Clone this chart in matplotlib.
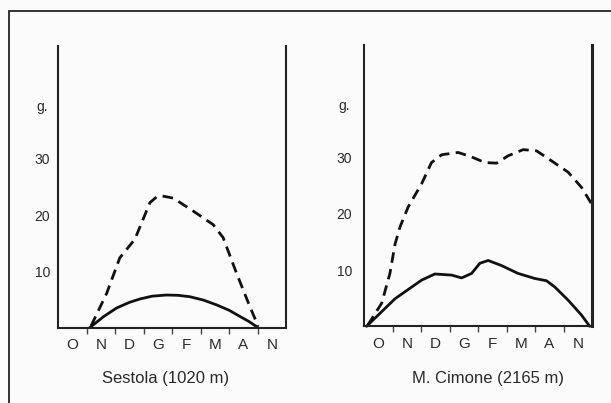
import matplotlib
matplotlib.use("Agg")
import matplotlib.pyplot as plt
from matplotlib.patches import Rectangle

plt.rcParams['font.family'] = ['Liberation Sans', 'DejaVu Sans']

months = ['O', 'N', 'D', 'G', 'F', 'M', 'A', 'N']
y_ticks = [10, 20, 30]
y_unit_label = 'g.'

# Sestola (1020 m)
ses_solid_x = [1.1, 1.6, 2.05, 2.5, 2.87, 3.3, 3.8, 4.2, 4.62, 5.1, 5.56, 6.0, 6.38, 6.7, 7.02]
ses_solid_y = [0.0, 2.0, 3.5, 4.5, 5.1, 5.6, 5.8, 5.75, 5.5, 4.9, 4.05, 3.1, 2.0, 1.1, 0.0]
ses_dash_x = [1.15, 1.7, 2.16, 2.69, 3.22, 3.45, 3.63, 4.04, 4.74, 5.44, 5.79, 6.26, 6.73, 7.02]
ses_dash_y = [0.3, 6.1, 12.4, 15.7, 22.2, 23.2, 23.4, 23.0, 20.7, 18.3, 16.0, 9.7, 3.75, 0.3]

# M. Cimone (2165 m)
cim_solid_x = [0.08, 1.08, 2.01, 2.48, 3.07, 3.42, 3.77, 4.06, 4.35, 4.82, 5.4, 5.99, 6.4, 6.69, 7.16, 7.63, 7.92]
cim_solid_y = [0.0, 4.9, 8.2, 9.3, 9.1, 8.6, 9.4, 11.2, 11.7, 10.8, 9.4, 8.5, 8.1, 7.0, 4.65, 2.0, 0.0]
cim_dash_x = [0.12, 0.61, 0.9, 1.08, 1.25, 1.54, 2.01, 2.36, 2.72, 3.3, 3.77, 4.24, 4.65, 5.05, 5.58, 6.05, 6.58, 7.16, 7.63, 7.98]
cim_dash_y = [0.2, 4.1, 9.4, 14.6, 17.6, 21.2, 25.3, 29.1, 30.5, 30.9, 30.1, 29.1, 29.0, 30.3, 31.4, 31.2, 29.4, 27.4, 24.7, 21.8]

captions = ['Sestola (1020 m)', 'M. Cimone (2165 m)']

bg = '#fbfbfb'
txt = '#2a2a2a'
fig = plt.figure(figsize=(6.11, 4.03), dpi=100, facecolor=bg)

# outer frame (open at right/bottom edges of the picture)
fig.patches.append(Rectangle((8.5 / 611, -0.1), 1.2, (403 - 11) / 403 + 0.1,
                             transform=fig.transFigure, fill=False,
                             edgecolor='#222222', linewidth=1.3))

positions = [[58.3 / 611, 75.3 / 403, 227.7 / 611, 281.7 / 403],
             [364.3 / 611, 76.7 / 403, 227.7 / 611, 281.3 / 403]]
data = [(ses_solid_x, ses_solid_y, ses_dash_x, ses_dash_y),
        (cim_solid_x, cim_solid_y, cim_dash_x, cim_dash_y)]

for i, (pos, (sx, sy, dx, dy)) in enumerate(zip(positions, data)):
    ax = fig.add_axes(pos)
    ax.set_facecolor('none')
    ax.set_xlim(0, 8)
    ax.set_ylim(0, 50)
    ax.plot(sx, sy, color='#111111', linewidth=2.0, solid_capstyle='round',
            clip_on=False)
    ax.plot(dx, dy, color='#111111', linewidth=2.0, linestyle=(0, (3.8, 2.3)),
            clip_on=False)
    for s in ['left', 'right', 'bottom']:
        ax.spines[s].set_color('#222222')
        ax.spines[s].set_linewidth(1.5)
    ax.spines['top'].set_visible(False)
    if i == 1:
        ax.spines['right'].set_linewidth(2.2)
    ax.set_xticks(range(1, 8))
    ax.set_xticklabels([])
    ax.tick_params(axis='x', which='major', direction='out', length=4,
                   width=1.0, color='#444444')
    ax.set_xticks([k + 0.5 for k in range(8)], minor=True)
    ax.set_xticklabels(months, minor=True, fontsize=11, color=txt)
    ax.tick_params(axis='x', which='minor', length=0, pad=7.5)
    ax.set_yticks(y_ticks + [39.5])
    ax.set_yticklabels([str(v) for v in y_ticks] + [y_unit_label],
                       fontsize=10, color=txt)
    ax.tick_params(axis='y', length=0, pad=11.5 if i == 0 else 14.3)
    for lbl in ax.get_yticklabels():
        lbl.set_horizontalalignment('center')

fig.text(165.8 / 611, (403 - 378) / 403, captions[0], ha='center', va='center',
         fontsize=12, color=txt)
fig.text(487.5 / 611, (403 - 378) / 403, captions[1], ha='center', va='center',
         fontsize=12, color=txt)

fig.savefig('out.png', dpi=100, facecolor=bg)
